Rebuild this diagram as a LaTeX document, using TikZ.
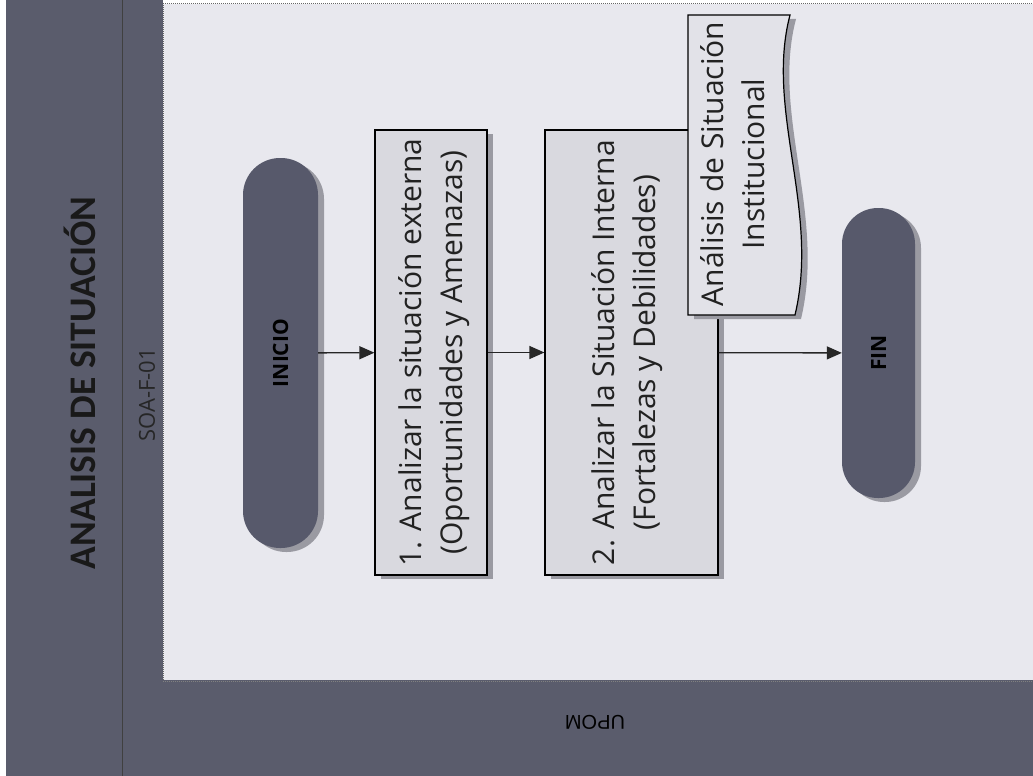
\documentclass[tikz,border=0pt]{standalone}
\usepackage{fontspec}
\setmainfont{Open Sans}
\newfontfamily\titlefont{Carlito}
\newfontfamily\arialfont{Liberation Sans}
\usetikzlibrary{arrows.meta,shadows}
\definecolor{band}{HTML}{5A5C6C}
\definecolor{bgl}{HTML}{E8E8EE}
\definecolor{boxf}{HTML}{D9D9DF}
\definecolor{docf}{HTML}{E2E2E8}
\definecolor{pill}{HTML}{57596B}
\definecolor{shd}{HTML}{9A9AA2}
\definecolor{ink}{HTML}{222222}
\tikzset{
  term/.style={draw=none, fill=pill, drop shadow={shadow xshift=6pt, shadow yshift=-4pt, fill=shd, opacity=1}},
  proc/.style={draw=black, line width=1.2pt, fill=boxf, drop shadow={shadow xshift=6pt, shadow yshift=-4pt, fill=shd, opacity=1}},
  vtext/.style={rotate=90, align=center, text=ink, font=\fontsize{30}{41}\selectfont, inner sep=0pt},
  ttext/.style={rotate=90, text=black, font=\bfseries\fontsize{21}{24}\selectfont, inner sep=0pt},
  flow/.style={line width=1.3pt, draw=black!85, -{Triangle[length=15pt,width=13pt]}}
}
\begin{document}
\begin{tikzpicture}[x=1pt,y=-1pt]
\useasboundingbox (0,0) rectangle (1033,776);
\fill[white] (0,0) rectangle (1033,776);
% bands
\fill[band] (6,0) rectangle (163,776);
\fill[band] (163,680) rectangle (1033,776);
\fill[bgl] (163,4) rectangle (1033,680);
\draw[densely dotted, black!60, line width=1pt] (163,680) -- (163,4) -- (1033,4);
\draw[densely dotted, black!50, line width=1pt] (163,681) -- (1033,681);
\draw[black!75, line width=0.8pt] (122,0) -- (122,776);
% headers
\node[rotate=90, text=black!90, font=\titlefont\bfseries\fontsize{37.5}{40}\selectfont, inner sep=0pt] (title) at (80,383) {ANALISIS DE SITUACIÓN};
\node[rotate=90, text=black!85, font=\fontsize{22}{24}\selectfont, inner sep=0pt] (code) at (147,395) {SOA-F-01};
\node[rotate=180, text=black, font=\arialfont\fontsize{20}{24}\selectfont, inner sep=0pt] (lane) at (595,722) {UPOM};
% terminals
\node[term, minimum width=75pt, minimum height=390pt, rounded corners=37pt] (ini) at (280.5,353) {};
\node[ttext] (init) at (ini) {INICIO};
\node[term, minimum width=73pt, minimum height=290pt, rounded corners=36pt] (fin) at (878.5,353) {};
\node[ttext] (fint) at (fin) {FIN};
% processes
\node[proc, minimum width=112pt, minimum height=445pt] (b1) at (431,352.5) {};
\node[vtext] (b1t) at (434,352.5) {1. Analizar la situación externa\\(Oportunidades y Amenazas)};
\node[proc, minimum width=173pt, minimum height=445pt] (b2) at (631.5,352.5) {};
\node[vtext] (b2t) at (627,352.5) {2. Analizar la Situación Interna\\(Fortalezas y Debilidades)};
% document
\fill[shd] (694,19) -- (796,19) .. controls (771,114) and (826,214) .. (801,319) -- (694,319) -- cycle;
\draw[line width=1.2pt, fill=docf] (688,15) -- (790,15) .. controls (765,110) and (820,210) .. (795,315) -- (688,315) -- cycle;
\node[vtext] (doct) at (733,164) {Análisis de Situación\\Institucional};
% connectors
\draw[flow] (ini) -- (b1);
\draw[flow] (b1) -- (b2);
\draw[flow] (b2) -- (fin);
\end{tikzpicture}
\end{document}
